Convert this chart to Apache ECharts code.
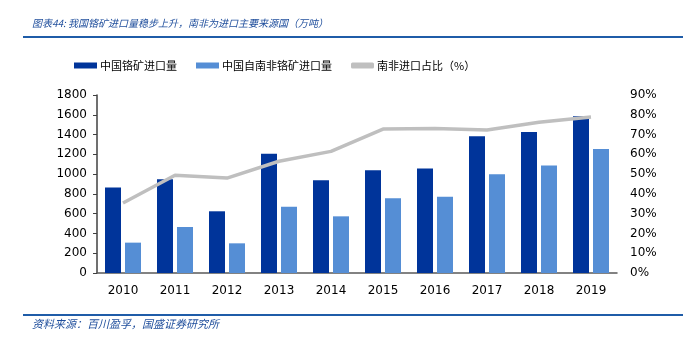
<!DOCTYPE html>
<html><head><meta charset="utf-8">
<script src="https://cdn.jsdelivr.net/npm/echarts@6/dist/echarts.min.js"></script>
<style>html,body{margin:0;padding:0;background:#fff}#c{width:692px;height:339px}</style>
</head><body><div id="c"></div>
<script>
const categories = ['2010','2011','2012','2013','2014','2015','2016','2017','2018','2019'];
const totalImports = [864, 947, 624, 1207, 937, 1038, 1056, 1382, 1426, 1585];
const southAfricaImports = [307, 465, 300, 671, 573, 755, 772, 998, 1086, 1254];
const southAfricaShare = [35.4, 49.4, 48.0, 56.5, 61.5, 72.8, 73.0, 72.3, 76.2, 78.9];
const seriesNames = ['中国铬矿进口量', '中国自南非铬矿进口量', '南非进口占比（%）'];
const titleText = '图表44: 我国铬矿进口量稳步上升，南非为进口主要来源国（万吨）';
const sourceText = '资料来源：百川盈孚，国盛证券研究所';

const chart = echarts.init(document.getElementById('c'));
const axisFont = {fontFamily: 'DejaVu Sans', fontSize: 12, color: '#000'};
chart.setOption({
  animation: false,
  graphic: [
    {type: 'text', left: 32, top: 18, style: {text: titleText, font: 'italic 10px "Noto Sans CJK SC"', fill: '#1F4E9C'}},
    {type: 'rect', shape: {x: 23, y: 36, width: 660, height: 2}, style: {fill: '#1F5CA8'}},
    {type: 'rect', shape: {x: 23, y: 314, width: 660, height: 2}, style: {fill: '#1F5CA8'}},
    {type: 'text', left: 32, top: 318, style: {text: sourceText, font: 'italic 11px "Noto Sans CJK SC"', fill: '#1F4E9C'}}
  ],
  legend: {
    top: 60, left: 74, padding: 0,
    itemWidth: 23, itemHeight: 6, itemGap: 19,
    textStyle: {fontFamily: 'Noto Sans CJK SC', fontSize: 11, color: '#000', padding: [0, 0, 0, -2]},
    data: [
      {name: seriesNames[0], icon: 'rect'},
      {name: seriesNames[1], icon: 'rect'},
      {name: seriesNames[2], icon: 'roundRect'}
    ]
  },
  grid: {left: 97, right: 75, top: 95, bottom: 66},
  xAxis: {
    type: 'category', data: categories,
    axisLine: {lineStyle: {color: '#595959', width: 1.5}},
    axisTick: {show: false},
    axisLabel: Object.assign({margin: 12}, axisFont)
  },
  yAxis: [
    {type: 'value', min: 0, max: 1800, interval: 200,
     axisLine: {show: true, lineStyle: {color: '#404040', width: 1.5}},
     axisTick: {show: true, inside: false, length: 4, lineStyle: {color: '#404040'}},
     splitLine: {show: false},
     axisLabel: Object.assign({margin: 10, formatter: v => String(v)}, axisFont)},
    {type: 'value', min: 0, max: 90, interval: 10,
     axisLine: {show: false}, axisTick: {show: false}, splitLine: {show: false},
     axisLabel: Object.assign({margin: 13, formatter: '{value}%'}, axisFont)}
  ],
  series: [
    {name: seriesNames[0], type: 'bar', data: totalImports, barWidth: 16, barGap: '25%',
     itemStyle: {color: '#00349A'}},
    {name: seriesNames[1], type: 'bar', data: southAfricaImports, barWidth: 16,
     itemStyle: {color: '#558ED5'}},
    {name: seriesNames[2], type: 'line', yAxisIndex: 1, data: southAfricaShare,
     symbol: 'none', lineStyle: {color: '#BFBFBF', width: 3.5}, itemStyle: {color: '#BFBFBF'}}
  ]
});
</script></body></html>
